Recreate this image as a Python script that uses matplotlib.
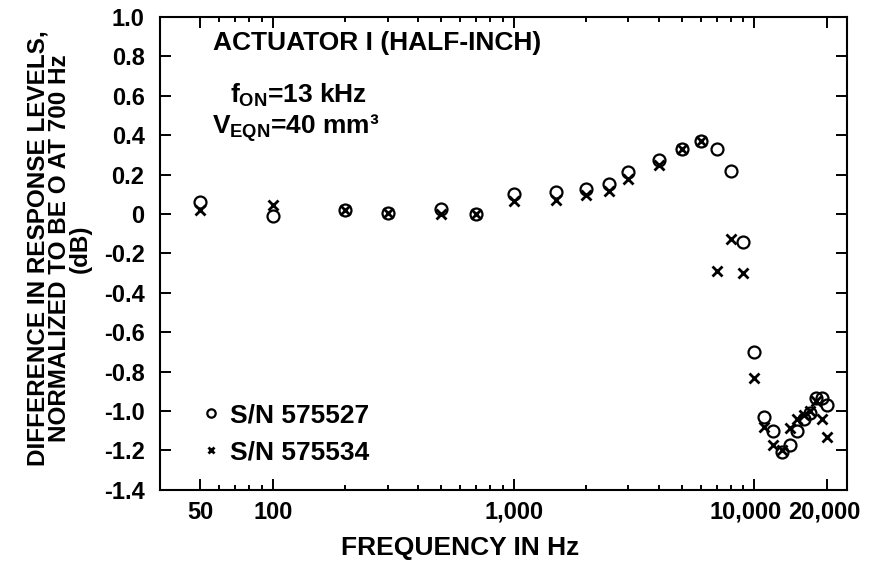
import matplotlib
matplotlib.use("Agg")
from matplotlib import pyplot as plt
from matplotlib.ticker import FixedLocator, FixedFormatter
from matplotlib.transforms import ScaledTranslation

#
# Data
#
freq_hz = [50, 100, 200, 300, 500, 700, 1000, 1500, 2000, 2500, 3000, 4000,
           5000, 6000, 7000, 8000, 9000, 10000, 11000, 12000, 13000, 14000,
           15000, 16000, 17000, 18000, 19000, 20000]
sn_575527 = [0.06, -0.01, 0.02, 0.005, 0.025, 0.0, 0.10, 0.11, 0.125, 0.15,
             0.215, 0.275, 0.33, 0.37, 0.33, 0.22, -0.14, -0.70, -1.03, -1.10,
             -1.21, -1.17, -1.10, -1.04, -1.01, -0.935, -0.935, -0.97]
sn_575534 = [0.02, 0.045, 0.02, 0.005, 0.0, 0.0, 0.065, 0.07, 0.095, 0.115,
             0.18, 0.25, 0.33, 0.37, -0.29, -0.125, -0.30, -0.83, -1.08, -1.17,
             -1.20, -1.085, -1.04, -1.02, -1.00, -0.95, -1.04, -1.13]

x_major = [50, 100, 1000, 10000, 20000]
x_major_labels = ["50", "100", "1,000", "10,000", "20,000"]
x_minor = [60, 70, 80, 90, 200, 300, 400, 500, 600, 700, 800, 900,
           2000, 3000, 4000, 5000, 6000, 7000, 8000, 9000]
y_ticks = [1.0, 0.8, 0.6, 0.4, 0.2, 0.0, -0.2, -0.4, -0.6, -0.8, -1.0, -1.2, -1.4]
y_tick_labels = ["1.0", "0.8", "0.6", "0.4", "0.2", "0", "-0.2", "-0.4",
                 "-0.6", "-0.8", "-1.0", "-1.2", "-1.4"]

#
# Style
#
plt.rcParams["font.family"] = ["Liberation Sans", "DejaVu Sans"]
plt.rcParams["font.weight"] = "bold"
plt.rcParams["axes.unicode_minus"] = False
plt.rcParams["mathtext.fontset"] = "custom"
plt.rcParams["mathtext.rm"] = "Liberation Sans:bold"
plt.rcParams["mathtext.it"] = "Liberation Sans:bold"
plt.rcParams["mathtext.bf"] = "Liberation Sans:bold"

TEXT_SIZE = 19
TICK_SIZE = 17
YLABEL_SIZE = 17.5

# Figure and axes
fig = plt.figure(figsize=(8.69, 5.65), dpi=100)
ax = fig.add_axes([0.184, 0.133, 0.791, 0.837])

# Plot series
ax.plot(freq_hz, sn_575527, linestyle="none", marker="o", markersize=8.6,
        markerfacecolor="none", markeredgecolor="black", markeredgewidth=1.6,
        label="S/N 575527")
ax.plot(freq_hz, sn_575534, linestyle="none", marker="x", markersize=7,
        color="black", markeredgewidth=2.0, label="S/N 575534")

# Axes scales and limits
ax.set_xscale("log")
ax.set_xlim(34, 24300)
ax.set_ylim(-1.4, 1.0)

# Ticks
ax.xaxis.set_major_locator(FixedLocator(x_major))
ax.xaxis.set_major_formatter(FixedFormatter(x_major_labels))
ax.xaxis.set_minor_locator(FixedLocator(x_minor))
ax.xaxis.set_minor_formatter(FixedFormatter([""] * len(x_minor)))
ax.yaxis.set_major_locator(FixedLocator(y_ticks))
ax.yaxis.set_major_formatter(FixedFormatter(y_tick_labels))

ax.tick_params(which="both", direction="in", top=True, right=True,
               colors="black", width=1.4)
ax.tick_params(which="major", length=8, labelsize=TICK_SIZE)
ax.tick_params(which="minor", length=3.5)
ax.tick_params(axis="y", pad=11)
ax.tick_params(axis="x", pad=8)

# The two right-most labels sit a little to the left of their ticks
fig.canvas.draw()
for label in ax.get_xticklabels():
    shift = {"10,000": -9, "20,000": -3}.get(label.get_text(), 0)
    if shift:
        label.set_transform(label.get_transform()
                            + ScaledTranslation(shift / 100, 0, fig.dpi_scale_trans))

for spine in ax.spines.values():
    spine.set_linewidth(1.5)

# Axis labels
fig.text(0.068, 0.56,
         "DIFFERENCE IN RESPONSE LEVELS,\nNORMALIZED TO BE O AT 700 Hz\n(dB)",
         rotation=90, ha="center", va="center", multialignment="center",
         linespacing=0.9, fontsize=YLABEL_SIZE, fontweight="bold")
fig.text(0.53, 0.03, "FREQUENCY IN Hz", ha="center", va="center",
         fontsize=TEXT_SIZE, fontweight="bold")

# Annotations
ax.text(0.077, 0.945, "ACTUATOR I (HALF-INCH)", transform=ax.transAxes,
        ha="left", va="center", fontsize=TEXT_SIZE, fontweight="bold")
ax.text(0.102, 0.835, r"$f_{ON}$=13 kHz", transform=ax.transAxes,
        ha="left", va="center", fontsize=TEXT_SIZE, fontweight="bold")
ax.text(0.076, 0.765, r"$V_{EQN}$=40 mm³", transform=ax.transAxes,
        ha="left", va="center", fontsize=TEXT_SIZE, fontweight="bold")

# Legend
ax.legend(loc="lower left", bbox_to_anchor=(0.064, 0.054), frameon=False,
          fontsize=TEXT_SIZE, markerscale=0.7, handlelength=0.55,
          handletextpad=0.45, labelspacing=0.5, borderpad=0, borderaxespad=0)

fig.savefig("out.png", dpi=100)
plt.close(fig)
